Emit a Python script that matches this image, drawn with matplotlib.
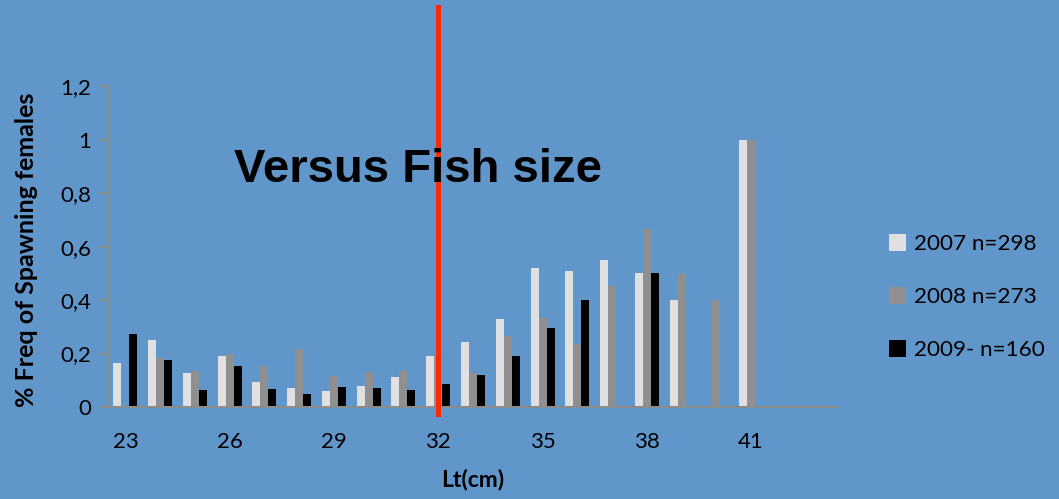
import numpy as np
import matplotlib.pyplot as plt
from matplotlib.patches import Patch

lengths = np.arange(23, 44)
freq_2007 = [0.166, 0.25, 0.126, 0.189, 0.094, 0.071, 0.061, 0.079, 0.114, 0.189,
             0.244, 0.329, 0.519, 0.509, 0.551, 0.50, 0.401, 0.0, 1.0, 0.0, 0.0]
freq_2008 = [0.0, 0.184, 0.136, 0.198, 0.155, 0.218, 0.116, 0.13, 0.136, 0.189,
             0.126, 0.264, 0.333, 0.235, 0.454, 0.665, 0.499, 0.401, 1.0, 0.0, 0.0]
freq_2009 = [0.274, 0.175, 0.065, 0.154, 0.068, 0.049, 0.074, 0.071, 0.065, 0.085,
             0.118, 0.189, 0.294, 0.401, 0.0, 0.5, 0.0, 0.0, 0.0, 0.0, 0.0]
labels = ['2007 n=298', '2008 n=273', '2009- n=160']
xtick_vals = [23, 26, 29, 32, 35, 38, 41]
ytick_vals = [0, 0.2, 0.4, 0.6, 0.8, 1.0, 1.2]
ytick_labels = ['0', '0,2', '0,4', '0,6', '0,8', '1', '1,2']

bg = '#6096C9'
colors = ['#E0E0E0', '#8F8F8F', '#000000']
plt.rcParams['font.family'] = ['Lato', 'DejaVu Sans']

fig = plt.figure(figsize=(10.59, 4.99), dpi=100, facecolor=bg)
ax = fig.add_axes([0.102, 0.1844, 0.6893, 0.6427])
ax.set_facecolor(bg)

w = 0.23
for i, (vals, c) in enumerate(zip([freq_2007, freq_2008, freq_2009], colors)):
    ax.bar(lengths + (i - 1) * w, vals, width=w, color=c, zorder=2)

ax.set_xlim(22.5, 43.5)
ax.set_ylim(0, 1.2)
ax.set_xticks(xtick_vals)
ax.set_xticklabels([str(v) for v in xtick_vals], fontsize=16)
ax.set_yticks(ytick_vals)
ax.set_yticklabels(ytick_labels, fontsize=16)
ax.tick_params(axis='x', length=0, pad=18)
ax.tick_params(axis='y', length=6, width=1.5, color='#8C8C8C', pad=6)

for s in ['top', 'right']:
    ax.spines[s].set_visible(False)
for s in ['left', 'bottom']:
    ax.spines[s].set_color('#8C8C8C')
    ax.spines[s].set_linewidth(1.5)

ax.set_xlabel('Lt(cm)', fontsize=16.5, fontweight='bold', labelpad=12)
ax.set_ylabel('% Freq of Spawning females', fontsize=18, fontweight='bold', labelpad=10)
ax.yaxis.set_label_coords(-0.096, 0.49)

# red cut-off line
ax.axvline(32, ymin=-0.022, ymax=1.247, color='#FF2A00', linewidth=3.6, clip_on=False, zorder=5)

fig.text(0.395, 0.66, 'Versus Fish size', fontsize=34, fontweight='bold',
         family='Liberation Sans', ha='center', va='center', zorder=4)

handles = [Patch(facecolor=c, edgecolor='none') for c in colors]
fig.legend(handles, labels, loc='center left', bbox_to_anchor=(0.839, 0.405),
           frameon=False, fontsize=16.2, handlelength=0.78, handleheight=0.78,
           handletextpad=0.35, labelspacing=1.45, borderpad=0, borderaxespad=0)

fig.savefig('out.png', dpi=100, facecolor=bg)
